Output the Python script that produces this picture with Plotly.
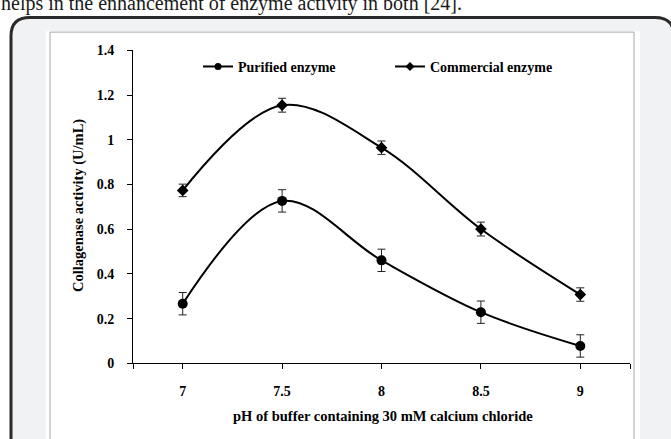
import plotly.graph_objects as go

ph = [7, 7.5, 8, 8.5, 9]
purified = [0.267, 0.727, 0.461, 0.229, 0.078]
purified_err = [0.05, 0.05, 0.05, 0.05, 0.05]
commercial = [0.774, 1.155, 0.965, 0.601, 0.308]
commercial_err = [0.028, 0.031, 0.03, 0.031, 0.03]
series_names = ["Purified enzyme", "Commercial enzyme"]

x_tickvals = [6.75, 7, 7.5, 8, 8.5, 9, 9.25]
x_ticktext = ["", "7", "7.5", "8", "8.5", "9", ""]
y_tickvals = [0, 0.2, 0.4, 0.6, 0.8, 1, 1.2, 1.4]
y_ticktext = ["0", "0.2", "0.4", "0.6", "0.8", "1", "1.2", "1.4"]

W, H = 671, 439
FONT = "Liberation Serif"


def px(x):
    return x / W


def py(y):
    return 1 - y / H


fig = go.Figure()

line_style = dict(color="black", width=2, shape="spline", smoothing=1)
err_style = dict(type="data", color="#222222", thickness=1, width=4)

fig.add_trace(go.Scatter(
    x=ph, y=purified, name=series_names[0], mode="lines+markers", showlegend=False,
    line=line_style, marker=dict(symbol="circle", size=10, color="black"),
    error_y=dict(err_style, array=purified_err),
))
fig.add_trace(go.Scatter(
    x=ph, y=commercial, name=series_names[1], mode="lines+markers", showlegend=False,
    line=line_style, marker=dict(symbol="diamond", size=9, color="black"),
    error_y=dict(err_style, array=commercial_err),
))
# legend entries (smaller legend symbols, like the original)
fig.add_trace(go.Scatter(
    x=[None], y=[None], name=series_names[0], mode="lines+markers",
    line=dict(color="black", width=2), marker=dict(symbol="circle", size=7, color="black"),
))
fig.add_trace(go.Scatter(
    x=[None], y=[None], name=series_names[1], mode="lines+markers",
    line=dict(color="black", width=2), marker=dict(symbol="diamond", size=7, color="black"),
))

shapes = [
    dict(type="path", xref="paper", yref="paper", layer="below",
         path=(f"M {px(11)},{py(460)} L {px(11)},{py(30)} "
               f"Q {px(11)},{py(11)} {px(30)},{py(11)} "
               f"L {px(655)},{py(11)} Q {px(674)},{py(11)} {px(674)},{py(30)} "
               f"L {px(674)},{py(460)} Z"),
         fillcolor="#f1f2f4", line=dict(color="#2a2a2a", width=3)),
    dict(type="rect", xref="paper", yref="paper", layer="below",
         x0=px(46), x1=px(640), y0=py(460), y1=py(25),
         fillcolor="white", line=dict(width=0)),
    dict(type="rect", xref="paper", yref="paper", layer="below",
         x0=px(50), x1=px(634), y0=py(460), y1=py(26),
         fillcolor="rgba(0,0,0,0)", line=dict(color="#a8a8a8", width=1)),
]

annotations = [
    dict(text="helps in the enhancement of enzyme activity in both [24].",
         xref="paper", yref="paper", x=px(-1), y=py(-4), xanchor="left", yanchor="middle",
         showarrow=False, font=dict(family=FONT, size=20, color="#1a1a1a")),
    dict(text="<b>Collagenase activity (U/mL)</b>", textangle=-90,
         xref="paper", yref="paper", x=px(79), y=py(206), xanchor="center", yanchor="middle",
         showarrow=False, font=dict(family=FONT, size=14.5, color="black")),
    dict(text="<b>pH of buffer containing 30 mM calcium chloride</b>",
         xref="paper", yref="paper", x=px(383), y=py(423), xanchor="center", yanchor="middle",
         showarrow=False, font=dict(family=FONT, size=14.5, color="black")),
]

tickfont = dict(family=FONT, size=14, color="black", weight="bold")

fig.update_layout(
    width=W, height=H,
    margin=dict(l=0, r=0, t=0, b=0),
    paper_bgcolor="white", plot_bgcolor="rgba(0,0,0,0)",
    font=dict(family=FONT, size=13, color="black"),
    shapes=shapes, annotations=annotations,
    showlegend=True,
    legend=dict(orientation="h", x=px(198), y=py(62), xanchor="left", yanchor="middle",
                bgcolor="rgba(0,0,0,0)", borderwidth=0,
                entrywidth=147, entrywidthmode="pixels",
                font=dict(family=FONT, size=14, color="black", weight="bold")),
    xaxis=dict(domain=[px(133), px(630)], range=[6.75, 9.25],
               tickvals=x_tickvals, ticktext=x_ticktext,
               ticks="outside", ticklen=5, tickcolor="black", tickwidth=1,
               showline=True, linecolor="black", linewidth=1,
               showgrid=False, zeroline=False, ticklabelstandoff=10,
               tickfont=tickfont),
    yaxis=dict(domain=[py(369), py(45)], range=[0, 1.4],
               tickvals=y_tickvals, ticktext=y_ticktext,
               ticks="outside", ticklen=5, tickcolor="black", tickwidth=1,
               showline=True, linecolor="black", linewidth=1,
               showgrid=False, zeroline=False, ticklabelstandoff=10,
               tickfont=tickfont),
)

fig.write_html("out.html", config={"displayModeBar": False},
               post_script="document.body.style.margin='0';document.body.style.overflow='hidden';")
